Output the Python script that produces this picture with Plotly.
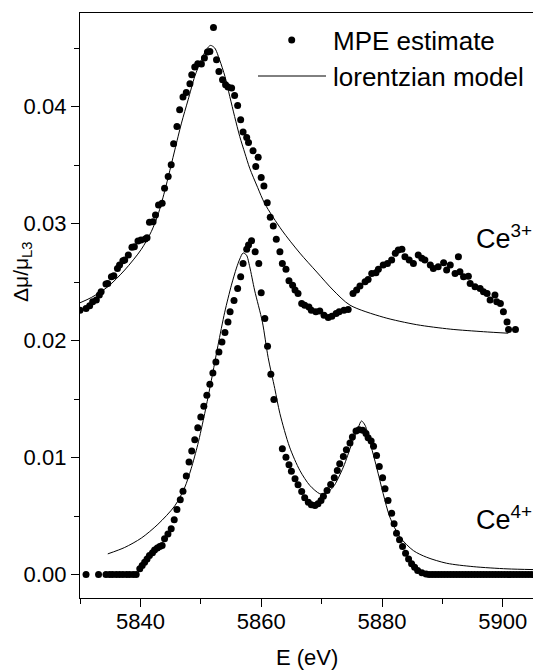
import plotly.graph_objects as go

# ---- Ce3+ : MPE estimate (points) ----
ce3_E = [5830.0, 5831.0, 5831.6, 5832.1, 5832.7, 5833.2, 5833.5, 5834.3, 5834.6, 5835.2,
         5835.6, 5836.2, 5836.55, 5837.1, 5837.4, 5838.0, 5838.6, 5839.0, 5839.6, 5840.1,
         5840.8, 5841.1, 5841.5, 5842.1, 5842.5, 5843.0, 5843.6, 5844.0, 5844.6, 5845.1,
         5845.5, 5846.05, 5846.5, 5847.05, 5847.6, 5848.2, 5848.5, 5849.0, 5849.5, 5850.1,
         5850.6, 5851.1, 5851.5, 5852.1, 5852.6, 5853.0, 5853.6, 5854.1, 5854.5, 5855.1,
         5855.6, 5856.1, 5856.6, 5857.0, 5857.6, 5857.9, 5858.65, 5859.1, 5859.5,
         5860.0, 5860.45, 5861.0, 5861.5, 5862.0, 5862.5, 5863.1, 5863.5, 5864.1, 5864.6,
         5865.2, 5865.6, 5866.1, 5866.7, 5867.2, 5867.9, 5868.3, 5869.05, 5869.7, 5870.4,
         5871.1, 5871.7, 5872.4, 5872.9, 5873.7, 5874.4, 5875.2, 5875.8, 5876.35, 5877.2,
         5877.7, 5878.3, 5879.0, 5879.4, 5880.2, 5880.9, 5881.6, 5882.2, 5882.7, 5883.3,
         5883.8, 5884.5, 5885.2, 5886.0, 5886.6, 5887.1, 5888.0, 5888.5, 5889.3, 5890.2,
         5890.7, 5891.3, 5892.1, 5892.65, 5892.9, 5893.5, 5894.3, 5894.6, 5895.4, 5896.25,
         5896.8, 5897.4, 5897.9, 5898.7, 5899.0, 5899.6, 5900.1, 5900.7, 5900.95, 5902.1]
ce3_mpe = [0.0226, 0.02275, 0.02297, 0.02331, 0.02346, 0.02389, 0.02417, 0.02483, 0.02489, 0.02545,
           0.02554, 0.02617, 0.02646, 0.02682, 0.02688, 0.02731, 0.02797, 0.02802, 0.02851, 0.0286,
           0.02868, 0.02879, 0.03011, 0.03016, 0.03074, 0.03159, 0.03174, 0.03302, 0.03402, 0.03502,
           0.03682, 0.0383, 0.03973, 0.04081, 0.04121, 0.04195, 0.04272, 0.04338, 0.04366, 0.04364,
           0.04415, 0.04467, 0.04472, 0.04677, 0.04401, 0.043, 0.04229, 0.04187, 0.04167, 0.04158,
           0.04095, 0.0401, 0.03887, 0.03782, 0.03735, 0.03693, 0.03622, 0.03487, 0.03568,
           0.03394, 0.03322, 0.03179, 0.03054, 0.02979, 0.02866, 0.02759, 0.0266, 0.02609, 0.02511,
           0.02474, 0.02432, 0.02403, 0.02318, 0.02303, 0.02288, 0.0226, 0.02246, 0.02252, 0.02217,
           0.02198, 0.02209, 0.02232, 0.02246, 0.0226, 0.02266, 0.02403, 0.02432, 0.02466, 0.02503,
           0.02523, 0.02574, 0.0258, 0.02609, 0.02646, 0.0266, 0.02688, 0.02746, 0.02774, 0.0278,
           0.02717, 0.02688, 0.0266, 0.02731, 0.02703, 0.02688, 0.02646, 0.02617, 0.02631, 0.02665,
           0.02603, 0.02646, 0.02574, 0.02717, 0.02588, 0.02545, 0.0255, 0.02489, 0.0246, 0.02446,
           0.02417, 0.02403, 0.02346, 0.02389, 0.02331, 0.02318, 0.02246, 0.0216, 0.02095, 0.02095]

# ---- Ce3+ : lorentzian model (line) ----
ce3_model_E = [5830.0, 5831.9, 5834.6, 5837.4, 5840.15, 5841.8, 5842.9, 5844.0, 5845.1, 5845.7,
               5846.8, 5847.9, 5849.0, 5850.1, 5850.9, 5851.6, 5852.3, 5853.1, 5854.0, 5854.8,
               5855.6, 5856.45, 5857.3, 5858.1, 5859.4, 5860.6, 5863.4, 5866.4, 5869.2, 5871.9,
               5874.7, 5880.2, 5885.75, 5891.3, 5896.8, 5900.9]
ce3_model = [0.02323, 0.02369, 0.0246, 0.02603, 0.0278, 0.02931, 0.03074, 0.03273, 0.03502, 0.0363,
             0.03859, 0.04058, 0.04258, 0.04401, 0.04486, 0.04523, 0.04501, 0.04401, 0.04258, 0.04086,
             0.03915, 0.03744, 0.03602, 0.03473, 0.0331, 0.0317, 0.02945, 0.02748, 0.02586, 0.02432,
             0.02303, 0.022, 0.02136, 0.02098, 0.02076, 0.02063]

# ---- Ce4+ : MPE estimate (points) ----
ce4_E = [5831.0, 5833.07, 5834.3, 5834.9, 5835.4, 5836.0, 5836.55, 5837.1, 5837.7, 5838.2,
         5838.8, 5839.3, 5839.9, 5840.3, 5840.7, 5841.1, 5841.5, 5842.0, 5842.35, 5842.8,
         5843.2, 5843.6, 5844.0, 5844.56, 5845.1, 5845.6, 5846.05, 5846.6, 5847.05, 5847.6,
         5848.05, 5848.5, 5849.0, 5849.5, 5850.0, 5850.5, 5851.0, 5851.5, 5852.0, 5852.5,
         5853.0, 5853.5, 5854.0, 5854.5, 5854.85, 5855.5, 5856.1, 5856.6, 5857.0, 5857.6,
         5857.9, 5858.4, 5859.0, 5859.6, 5860.0, 5860.6, 5861.05, 5861.6, 5862.1, 5863.5,
         5864.1, 5864.6, 5865.0, 5865.6, 5866.1, 5866.7, 5867.2, 5867.8, 5868.3, 5868.9,
         5869.4, 5869.9, 5870.3, 5870.9, 5871.5, 5872.1, 5872.6, 5873.0, 5873.6, 5874.1,
         5874.7, 5875.1, 5875.7, 5876.2, 5876.8, 5877.35, 5877.7, 5878.2, 5878.6, 5879.1,
         5879.55, 5880.1, 5880.5, 5881.0, 5881.6, 5882.0, 5882.4, 5882.9, 5883.4, 5883.9,
         5884.4, 5884.9, 5885.4, 5885.9, 5886.6, 5887.3, 5887.8, 5888.3, 5888.8, 5889.3,
         5889.8, 5890.3, 5890.8, 5891.3, 5891.8, 5892.3, 5892.8, 5893.3, 5893.8, 5894.3,
         5894.8, 5895.3, 5895.8, 5896.3, 5896.8, 5897.3, 5897.8, 5898.3, 5898.8, 5899.3,
         5899.8, 5900.3, 5900.8, 5901.3, 5901.8, 5902.3, 5902.8, 5903.3, 5903.8, 5904.3, 5904.8]
ce4_mpe = [0.0, 0.0, 0.0, 0.0, 0.0, 0.0, 0.0, 0.0, 0.0, 0.0,
           0.0, 0.0, 0.00049, 0.00077, 0.00105, 0.00134, 0.00163, 0.00186, 0.00211, 0.00228,
           0.0024, 0.00248, 0.00306, 0.00348, 0.00391, 0.00468, 0.00557, 0.0064, 0.00713, 0.00842,
           0.00962, 0.01056, 0.01153, 0.01256, 0.01348, 0.01438, 0.01533, 0.01627, 0.01723, 0.01818,
           0.01903, 0.01989, 0.02069, 0.0216, 0.02246, 0.02342, 0.02446, 0.02545, 0.0266, 0.0278,
           0.02817, 0.02854, 0.02759, 0.0266, 0.0241, 0.02189, 0.01952, 0.01712, 0.01496, 0.01076,
           0.01004, 0.00939, 0.00884, 0.00819, 0.00768, 0.00711, 0.00657, 0.00619, 0.00597, 0.00591,
           0.00605, 0.00634, 0.0067, 0.00719, 0.00771, 0.00828, 0.0089, 0.00948, 0.0101, 0.01067,
           0.01124, 0.01176, 0.01227, 0.01239, 0.01233, 0.01205, 0.0117, 0.01141, 0.01098, 0.01019,
           0.00925, 0.00828, 0.00734, 0.00634, 0.00525, 0.00434, 0.00354, 0.00297, 0.0024, 0.00182,
           0.00134, 0.00092, 0.00063, 0.00034, 0.00015, 0.00006, 0.0, 0.0, 0.0, 0.0,
           0.0, 0.0, 0.0, 0.0, 0.0, 0.0, 0.0, 0.0, 0.0, 0.0,
           0.0, 0.0, 0.0, 0.0, 0.0, 0.0, 0.0, 0.0, 0.0, 0.0,
           0.0, 0.0, 0.0, 0.0, 0.0, 0.0, 0.0, 0.0, 0.0, 0.0, 0.0]

# ---- Ce4+ : lorentzian model (line) ----
ce4_model_E = [5834.6, 5837.4, 5840.15, 5842.9, 5845.7, 5847.3, 5848.4, 5849.5, 5850.65, 5851.75,
               5852.85, 5853.96, 5855.07, 5855.9, 5856.45, 5857.0, 5857.56, 5858.1, 5858.9, 5860.2,
               5861.15, 5862.25, 5863.1, 5864.7, 5866.4, 5868.05, 5869.7, 5870.55, 5871.9, 5873.6,
               5875.0, 5876.1, 5876.6, 5877.2, 5878.0, 5879.1, 5880.2, 5881.3, 5883.0, 5885.2,
               5887.4, 5890.7, 5895.1, 5900.7, 5905.0]
ce4_model = [0.00177, 0.00232, 0.00312, 0.0043, 0.00588, 0.0074, 0.00905, 0.01112, 0.01378, 0.01661,
             0.0196, 0.02243, 0.02474, 0.0262, 0.02697, 0.02749, 0.02731, 0.02631, 0.02432, 0.02158,
             0.01855, 0.0159, 0.01376, 0.0109, 0.0089, 0.00762, 0.00691, 0.00691, 0.00747, 0.00919,
             0.01119, 0.01261, 0.01313, 0.01276, 0.01133, 0.00919, 0.00691, 0.00491, 0.00319, 0.00205,
             0.00148, 0.00097, 0.00068, 0.00049, 0.00043]

x_tickvals = [5840, 5860, 5880, 5900]
y_tickvals = [0.00, 0.01, 0.02, 0.03, 0.04]
y_ticktext = ["0.00", "0.01", "0.02", "0.03", "0.04"]

FONT = "Arial, 'Liberation Sans', sans-serif"
L, T, B, R = 80, 13, 74, 0
W, H = 533, 672
PW, PH = W - L - R, H - T - B


def px(x):
    return (x - L) / PW


def py(y):
    return (H - B - y) / PH


fig = go.Figure()
for xs, ys in [(ce3_E, ce3_mpe), (ce4_E, ce4_mpe)]:
    fig.add_trace(go.Scatter(x=xs, y=ys, mode="markers",
                             marker=dict(color="black", size=7, line=dict(width=0)),
                             showlegend=False, name="MPE estimate"))
for xs, ys in [(ce3_model_E, ce3_model), (ce4_model_E, ce4_model)]:
    fig.add_trace(go.Scatter(x=xs, y=ys, mode="lines",
                             line=dict(color="black", width=1, shape="spline", smoothing=0.8),
                             showlegend=False, name="lorentzian model"))

axis_common = dict(showline=True, linecolor="black", linewidth=1.3, ticks="outside",
                   ticklen=8, tickwidth=1.3, tickcolor="black", showgrid=False, zeroline=False,
                   tickfont=dict(family=FONT, size=22, color="black"))

fig.update_xaxes(range=[5830, 5905], tickvals=x_tickvals, mirror=True,
                 ticklabelstandoff=-5,
                 minor=dict(dtick=10, tick0=5830, ticks="outside", ticklen=5,
                            tickwidth=1.3, tickcolor="black", showgrid=False),
                 **axis_common)
fig.update_yaxes(range=[-0.002, 0.048], tickvals=y_tickvals, ticktext=y_ticktext,
                 minor=dict(dtick=0.005, tick0=0, ticks="outside", ticklen=5,
                            tickwidth=1.3, tickcolor="black", showgrid=False),
                 **axis_common)

annotations = [
    dict(text="E (eV)", x=px(307), y=py(657), xref="paper", yref="paper",
         showarrow=False, font=dict(family=FONT, size=22, color="black"),
         xanchor="center", yanchor="middle"),
    dict(text="Δμ/μ<sub>L3</sub>", x=px(22), y=py(272), xref="paper", yref="paper",
         showarrow=False, textangle=-90, font=dict(family=FONT, size=21, color="black"),
         xanchor="center", yanchor="middle"),
    dict(text="Ce<sup>3+</sup>", x=px(474), y=py(237), xref="paper", yref="paper",
         showarrow=False, font=dict(family=FONT, size=27, color="black"),
         xanchor="left", yanchor="middle"),
    dict(text="Ce<sup>4+</sup>", x=px(474), y=py(518), xref="paper", yref="paper",
         showarrow=False, font=dict(family=FONT, size=27, color="black"),
         xanchor="left", yanchor="middle"),
    dict(text="MPE estimate", x=px(331), y=py(41), xref="paper", yref="paper",
         showarrow=False, font=dict(family=FONT, size=26, color="black"),
         xanchor="left", yanchor="middle"),
    dict(text="lorentzian model", x=px(331), y=py(77), xref="paper", yref="paper",
         showarrow=False, font=dict(family=FONT, size=26, color="black"),
         xanchor="left", yanchor="middle"),
]

shapes = [
    dict(type="line", xref="paper", yref="paper", x0=px(258), x1=px(326), y0=py(76), y1=py(76),
         line=dict(color="black", width=1)),
    dict(type="circle", xref="paper", yref="paper", x0=px(288.2), x1=px(295.2),
         y0=py(43.5), y1=py(36.5), fillcolor="black", line=dict(width=0)),
]

fig.update_layout(width=W, height=H, margin=dict(l=L, r=R, t=T, b=B),
                  plot_bgcolor="white", paper_bgcolor="white",
                  annotations=annotations, shapes=shapes,
                  font=dict(family=FONT, color="black"))

fig.write_html("out.html")
